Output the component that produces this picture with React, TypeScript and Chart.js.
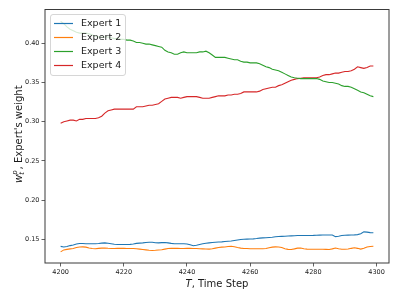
import React, { useEffect, useRef } from "react";
import { Chart, registerables } from "chart.js";

Chart.register(...registerables);

const START_STEP = 4200;
const SERIES_NAMES = ["Expert 1", "Expert 2", "Expert 3", "Expert 4"];
const SERIES_COLORS = ["#1f77b4", "#ff7f0e", "#2ca02c", "#d62728"];
const X_TICKS = [4200, 4220, 4240, 4260, 4280, 4300];
const Y_TICKS = [0.15, 0.2, 0.25, 0.3, 0.35, 0.4];
const X_RANGE = [4195.05, 4303.95];
const Y_RANGE = [0.1198, 0.4431];

const EXPERT_1 = [
  0.141, 0.1402, 0.1408, 0.142, 0.1428, 0.144, 0.1447, 0.1446, 0.1444, 0.1443,
  0.1443, 0.1443, 0.1446, 0.1452, 0.1455, 0.145, 0.1444, 0.1438, 0.1434, 0.1434,
  0.1434, 0.1434, 0.1435, 0.144, 0.1448, 0.1452, 0.1455, 0.146, 0.1463, 0.1462,
  0.1457, 0.1455, 0.1458, 0.146, 0.1455, 0.1448, 0.1444, 0.1443, 0.1443, 0.1443,
  0.144, 0.143, 0.1418, 0.1425, 0.1434, 0.1443, 0.145, 0.1455, 0.146, 0.1463,
  0.1466, 0.1468, 0.1472, 0.1476, 0.1478, 0.1485, 0.1492, 0.1497, 0.15, 0.1502,
  0.1504, 0.1506, 0.151, 0.1515, 0.1518, 0.152, 0.1524, 0.1527, 0.1532, 0.1536,
  0.1538, 0.154, 0.1542, 0.1544, 0.1546, 0.1548, 0.1548, 0.1548, 0.1548, 0.1549,
  0.155, 0.1552, 0.1554, 0.1555, 0.1555, 0.1556, 0.1555, 0.1534, 0.154, 0.1548,
  0.1552, 0.1554, 0.1555, 0.1557, 0.156, 0.157, 0.1595, 0.1592, 0.1585, 0.1583,
];

const EXPERT_2 = [
  0.134, 0.1365, 0.1372, 0.1378, 0.1383, 0.1395, 0.1403, 0.1404, 0.14, 0.139,
  0.1382, 0.138, 0.1384, 0.1388, 0.139, 0.1386, 0.1383, 0.1383, 0.1384, 0.1384,
  0.1384, 0.1383, 0.1383, 0.1382, 0.138, 0.1375, 0.137, 0.1365, 0.136, 0.1358,
  0.136, 0.1363, 0.1366, 0.1375, 0.1383, 0.1384, 0.1385, 0.1384, 0.1383, 0.1383,
  0.1385, 0.1384, 0.1383, 0.1382, 0.138, 0.1378, 0.1376, 0.1375, 0.138, 0.1388,
  0.1395, 0.14, 0.1403, 0.1408, 0.1412, 0.1405, 0.1395, 0.1388, 0.1383, 0.1382,
  0.138, 0.1379, 0.1379, 0.1379, 0.1379, 0.1382, 0.1392, 0.14, 0.1404, 0.1403,
  0.1395, 0.138, 0.1372, 0.137, 0.1378, 0.1388, 0.139, 0.138, 0.1375, 0.1374,
  0.1374, 0.1374, 0.1374, 0.1373, 0.1372, 0.137, 0.1378, 0.139, 0.138, 0.1374,
  0.1374, 0.1376, 0.1385, 0.1393, 0.1385, 0.1375, 0.1385, 0.1402, 0.1408, 0.1412,
];

const EXPERT_3 = [
  0.428, 0.425, 0.421, 0.418, 0.416, 0.414, 0.413, 0.413, 0.413, 0.412,
  0.411, 0.409, 0.408, 0.408, 0.408, 0.408, 0.407, 0.406, 0.406, 0.405,
  0.405, 0.404, 0.404, 0.403, 0.401, 0.401, 0.4, 0.399, 0.399, 0.398,
  0.397, 0.396, 0.395, 0.391, 0.389, 0.388, 0.386, 0.386, 0.388, 0.389,
  0.388, 0.388, 0.388, 0.388, 0.389, 0.389, 0.39, 0.388, 0.385, 0.382,
  0.382, 0.382, 0.382, 0.381, 0.38, 0.379, 0.379, 0.377, 0.376, 0.376,
  0.375, 0.375, 0.375, 0.374, 0.372, 0.37, 0.369, 0.367, 0.366, 0.365,
  0.363, 0.361, 0.359, 0.357, 0.356, 0.3555, 0.355, 0.355, 0.355, 0.355,
  0.355, 0.355, 0.354, 0.352, 0.351, 0.35, 0.35, 0.349, 0.348, 0.346,
  0.345, 0.345, 0.344, 0.342, 0.34, 0.338, 0.337, 0.335, 0.333, 0.332,
];

const EXPERT_4 = [
  0.298, 0.3, 0.301, 0.302, 0.302, 0.301, 0.303, 0.303, 0.304, 0.304,
  0.304, 0.304, 0.305, 0.307, 0.311, 0.314, 0.315, 0.316, 0.316, 0.316,
  0.316, 0.316, 0.316, 0.316, 0.319, 0.319, 0.319, 0.32, 0.321, 0.321,
  0.322, 0.323, 0.326, 0.329, 0.33, 0.331, 0.331, 0.331, 0.33, 0.331,
  0.332, 0.332, 0.332, 0.332, 0.331, 0.33, 0.33, 0.33, 0.331, 0.332,
  0.333, 0.333, 0.333, 0.334, 0.334, 0.335, 0.335, 0.336, 0.338, 0.338,
  0.338, 0.338, 0.338, 0.339, 0.341, 0.342, 0.343, 0.344, 0.344, 0.346,
  0.347, 0.349, 0.351, 0.353, 0.354, 0.355, 0.3555, 0.356, 0.356, 0.356,
  0.356, 0.356, 0.357, 0.359, 0.36, 0.36, 0.361, 0.362, 0.362, 0.363,
  0.364, 0.364, 0.365, 0.367, 0.37, 0.369, 0.368, 0.369, 0.371, 0.371,
];

const SERIES = [EXPERT_1, EXPERT_2, EXPERT_3, EXPERT_4];

const FONT = "'DejaVu Sans', sans-serif";
const TEXT_COLOR = "#1a1a1a";
const SPINE_COLOR = "#3a3a3a";

const framePlugin = {
  id: "frameAndLegend",
  afterDraw(chart: any) {
    const { ctx, chartArea } = chart;
    const { left, top, right, bottom } = chartArea;
    ctx.save();
    // legend box
    const lx = 50.5, ly = 14.5, lw = 75, lh = 61;
    ctx.beginPath();
    (ctx as any).roundRect(lx, ly, lw, lh, 2.5);
    ctx.fillStyle = "rgba(255,255,255,0.8)";
    ctx.fill();
    ctx.strokeStyle = "rgba(204,204,204,0.8)";
    ctx.lineWidth = 1;
    ctx.stroke();
    const rowY = [23.5, 37.5, 51.5, 65.5];
    ctx.font = `9.5px ${FONT}`;
    ctx.textBaseline = "middle";
    ctx.textAlign = "left";
    SERIES_NAMES.forEach((name, i) => {
      ctx.beginPath();
      ctx.moveTo(54, rowY[i]);
      ctx.lineTo(73, rowY[i]);
      ctx.strokeStyle = SERIES_COLORS[i];
      ctx.lineWidth = 1.2;
      ctx.stroke();
      ctx.fillStyle = TEXT_COLOR;
      ctx.fillText(name, 81, rowY[i] + 0.5);
    });

    // frame
    ctx.strokeStyle = SPINE_COLOR;
    ctx.lineWidth = 1;
    ctx.strokeRect(left, top, right - left, bottom - top);

    // x title: "T, Time Step"
    ctx.fillStyle = TEXT_COLOR;
    ctx.textBaseline = "alphabetic";
    const xCenter = (left + right) / 2;
    const italic = `italic 10px ${FONT}`;
    const normal = `10px ${FONT}`;
    ctx.font = italic;
    const wT = ctx.measureText("T").width;
    ctx.font = normal;
    const wRest = ctx.measureText(", Time Step").width;
    const x0 = xCenter - (wT + wRest) / 2;
    const by = 287;
    ctx.font = italic;
    ctx.fillText("T", x0, by);
    ctx.font = normal;
    ctx.fillText(", Time Step", x0 + wT, by);

    // y title: w_t^p, Expert's weight (rotated)
    const yCenter = (top + bottom) / 2 - 2;
    ctx.translate(21.5, yCenter);
    ctx.rotate(-Math.PI / 2);
    const small = `italic 7px ${FONT}`;
    ctx.font = italic;
    const ww = ctx.measureText("w").width;
    ctx.font = small;
    const wsub = ctx.measureText("t").width;
    const wsup = ctx.measureText("p").width;
    ctx.font = normal;
    const wlab = ctx.measureText(", Expert's weight").width;
    const total = ww + Math.max(wsub, wsup) + 1 + wlab;
    let cx = -total / 2;
    ctx.font = italic;
    ctx.fillText("w", cx, 0);
    cx += ww;
    ctx.font = small;
    ctx.fillText("t", cx, 2.5);
    ctx.fillText("p", cx, -4.5);
    cx += Math.max(wsub, wsup) + 1;
    ctx.font = normal;
    ctx.fillText(", Expert's weight", cx, 0);
    ctx.restore();
  },
};

export default function App() {
  const canvasRef = useRef<HTMLCanvasElement | null>(null);

  useEffect(() => {
    const canvas = canvasRef.current;
    if (!canvas) return;
    const datasets = SERIES.map((values, i) => ({
      label: SERIES_NAMES[i],
      data: values.map((v, j) => ({ x: START_STEP + j, y: v })),
      borderColor: SERIES_COLORS[i],
      backgroundColor: SERIES_COLORS[i],
      borderWidth: 1.1,
      pointRadius: 0,
      tension: 0,
      fill: false,
    }));
    const chart = new Chart(canvas, {
      type: "line",
      data: { datasets },
      options: {
        animation: false,
        responsive: false,
        maintainAspectRatio: false,
        devicePixelRatio: 1,
        layout: { padding: { left: 0, top: 9.5, right: 10, bottom: 0 } },
        plugins: {
          legend: { display: false },
          tooltip: { enabled: false },
        },
        scales: {
          x: {
            type: "linear",
            min: X_RANGE[0],
            max: X_RANGE[1],
            afterBuildTicks: (scale: any) => {
              scale.ticks = X_TICKS.map((v) => ({ value: v }));
            },
            afterFit: (scale: any) => {
              scale.height = 36;
            },
            grid: {
              display: true,
              drawOnChartArea: false,
              drawTicks: true,
              tickLength: 3.5,
              color: SPINE_COLOR,
              lineWidth: 0.8,
            },
            border: { display: false },
            ticks: {
              autoSkip: false,
              maxRotation: 0,
              padding: 2,
              color: TEXT_COLOR,
              font: { family: FONT, size: 6.5 },
              callback: (v: any) => String(v),
            },
          },
          y: {
            type: "linear",
            min: Y_RANGE[0],
            max: Y_RANGE[1],
            afterBuildTicks: (scale: any) => {
              scale.ticks = Y_TICKS.map((v) => ({ value: v }));
            },
            afterFit: (scale: any) => {
              scale.width = 45;
            },
            grid: {
              display: true,
              drawOnChartArea: false,
              drawTicks: true,
              tickLength: 3.5,
              color: SPINE_COLOR,
              lineWidth: 0.8,
            },
            border: { display: false },
            ticks: {
              autoSkip: false,
              padding: 2,
              color: TEXT_COLOR,
              font: { family: FONT, size: 6.5 },
              callback: (v: any) => Number(v).toFixed(2),
            },
          },
        },
      },
      plugins: [framePlugin],
    });
    return () => chart.destroy();
  }, []);

  return (
    <div style={{ position: "fixed", left: 0, top: 0, width: 399, height: 299, background: "#fff" }}>
      <canvas ref={canvasRef} width={399} height={299} style={{ width: 399, height: 299, display: "block" }} />
    </div>
  );
}
